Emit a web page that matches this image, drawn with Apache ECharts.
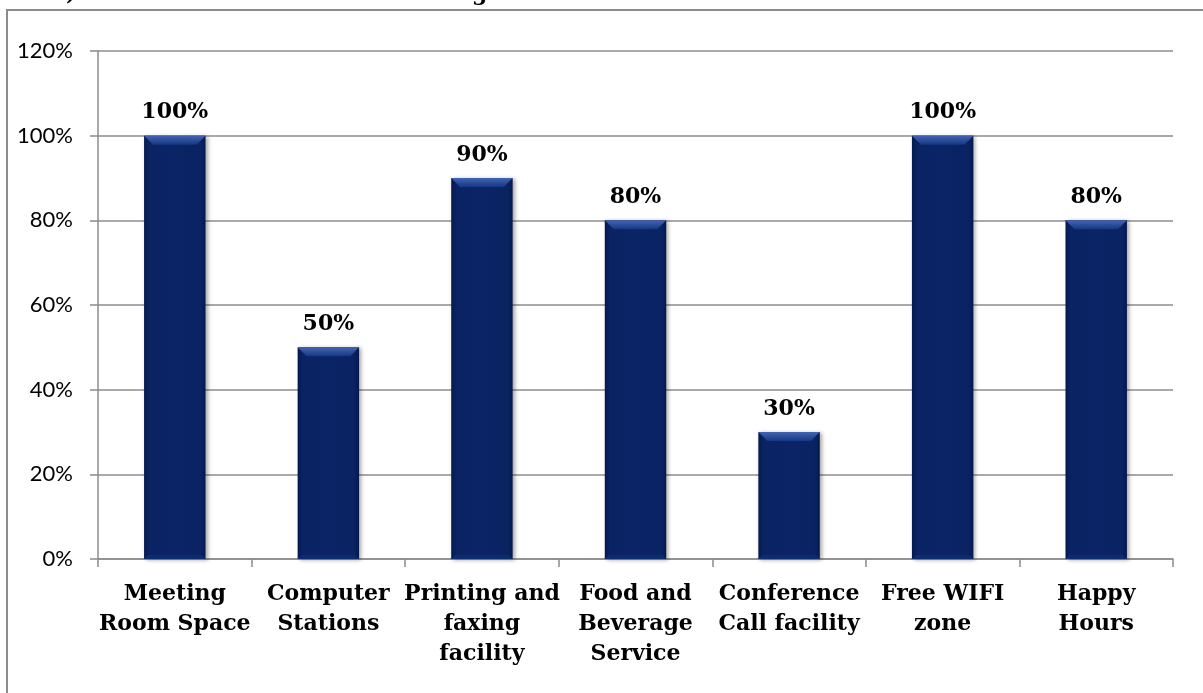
<!DOCTYPE html>
<html>
<head>
<meta charset="utf-8">
<script src="https://cdn.jsdelivr.net/npm/echarts@6/dist/echarts.min.js"></script>
<style>
html,body{margin:0;padding:0;background:#fff;}
#chart{width:1203px;height:693px;}
</style>
</head>
<body>
<div id="chart"></div>
<script>
const categories = ["Meeting\nRoom Space", "Computer\nStations", "Printing and\nfaxing\nfacility", "Food and\nBeverage\nService", "Conference\nCall facility", "Free WIFI\nzone", "Happy\nHours"];
const values = [100, 50, 90, 80, 30, 100, 80];
const yTicks = { min: 0, max: 120, interval: 20 };

const chart = echarts.init(document.getElementById('chart'));
const serif = '"DejaVu Serif", serif';
const barFrac = 0.4;

const option = {
  animation: false,
  backgroundColor: '#fff',
  graphic: [
    { type: 'rect', silent: true, shape: { x: 7, y: 10, width: 1220, height: 720 },
      style: { fill: 'none', stroke: '#8c8c8c', lineWidth: 2 } },
    { type: 'text', silent: true, style: { text: 'e)', x: 52, y: 5, verticalAlign: 'bottom', font: 'bold 22px ' + serif, fill: '#000' } },
    { type: 'text', silent: true, style: { text: 'g', x: 472, y: 5, verticalAlign: 'bottom', font: 'bold 22px ' + serif, fill: '#000' } }
  ],
  grid: { left: 98, right: 30, top: 51, bottom: 134, containLabel: false },
  xAxis: {
    type: 'category',
    data: categories,
    axisLine: { show: true, lineStyle: { color: '#8c8c8c', width: 1.5 } },
    axisTick: { show: true, length: 8, alignWithLabel: false, lineStyle: { color: '#8c8c8c', width: 1.5 } },
    axisLabel: { interval: 0, margin: 20, color: '#000', fontFamily: serif, fontWeight: 'bold', fontSize: 22, lineHeight: 30, align: 'center' },
    splitLine: { show: false }
  },
  yAxis: {
    type: 'value',
    min: yTicks.min, max: yTicks.max, interval: yTicks.interval,
    axisLine: { show: true, lineStyle: { color: '#8c8c8c', width: 1.5 } },
    axisTick: { show: true, length: 8, lineStyle: { color: '#8c8c8c', width: 1.5 } },
    axisLabel: { margin: 25, color: '#000', fontFamily: 'Lato, "Open Sans", sans-serif', fontSize: 22, formatter: v => v + '%' },
    splitLine: { show: true, lineStyle: { color: '#8c8c8c', width: 1.5 } }
  },
  series: [
    {
      type: 'bar',
      data: values,
      barWidth: (barFrac * 100) + '%',
      z: 2,
      itemStyle: {
        color: new echarts.graphic.LinearGradient(0, 0, 1, 0, [
          { offset: 0, color: '#05194d' },
          { offset: 0.08, color: '#092363' },
          { offset: 0.5, color: '#0a2465' },
          { offset: 0.92, color: '#092363' },
          { offset: 1, color: '#05194d' }
        ]),
        shadowColor: 'rgba(0,0,0,0.35)',
        shadowBlur: 4,
        shadowOffsetX: 2,
        shadowOffsetY: 1
      },
      label: {
        show: true, position: 'top', distance: 12,
        formatter: p => p.value + '%',
        color: '#000', fontFamily: serif, fontWeight: 'bold', fontSize: 22
      }
    },
    {
      type: 'custom',
      z: 3,
      silent: true,
      data: values.map((v, i) => [i, v]),
      renderItem: function (params, api) {
        const i = api.value(0), v = api.value(1);
        const top = api.coord([i, v]);
        const bot = api.coord([i, 0]);
        const bw = api.size([1, 0])[0] * barFrac;
        const l = top[0] - bw / 2, r = top[0] + bw / 2;
        const b = 9;
        return {
          type: 'group',
          children: [
            { type: 'polygon', shape: { points: [[l, top[1]], [r, top[1]], [r - b, top[1] + b], [l + b, top[1] + b]] },
              style: { fill: new echarts.graphic.LinearGradient(0, 0, 0, 1, [
                { offset: 0, color: '#4264b2' }, { offset: 1, color: '#163884' }]) } },
            { type: 'polygon', shape: { points: [[l, bot[1]], [r, bot[1]], [r - 4, bot[1] - 4], [l + 4, bot[1] - 4]] },
              style: { fill: '#0d2b70' } }
          ]
        };
      }
    }
  ]
};
chart.setOption(option);
</script>
</body>
</html>
